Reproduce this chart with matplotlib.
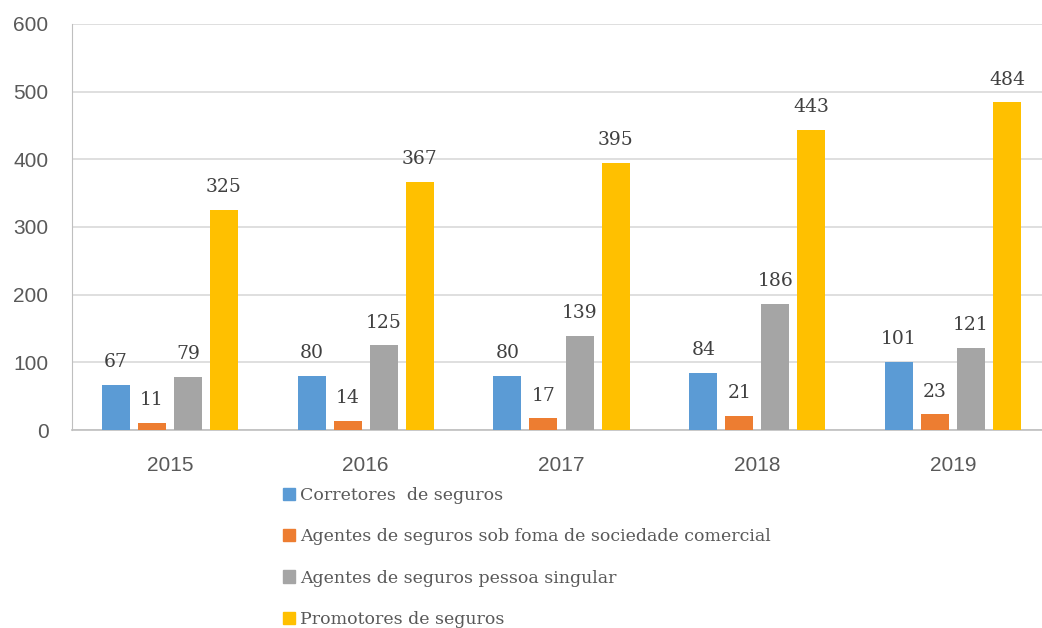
#!/usr/bin/env python3
import numpy as np
import matplotlib
matplotlib.use("Agg")
import matplotlib.pyplot as plt
from matplotlib.patches import Patch

# Dados
anos = ["2015", "2016", "2017", "2018", "2019"]
series = [
    "Corretores  de seguros",
    "Agentes de seguros sob foma de sociedade comercial",
    "Agentes de seguros pessoa singular",
    "Promotores de seguros",
]
corretores = [67, 80, 80, 84, 101]
agentes_sociedade = [11, 14, 17, 21, 23]
agentes_singular = [79, 125, 139, 186, 121]
promotores = [325, 367, 395, 443, 484]
valores = [corretores, agentes_sociedade, agentes_singular, promotores]
cores = ["#5B9BD5", "#ED7D31", "#A5A5A5", "#FFC000"]

texto = "#595959"
serif = "DejaVu Serif"
sans = "Liberation Sans"

fig = plt.figure(figsize=(10.42, 6.28), dpi=100)
W, H = 1042, 628
ax = fig.add_axes([72 / W, 1 - 430 / H, (1051 - 72) / W, (430 - 24) / H])

x = np.arange(len(anos))
largura = 0.143
passo = 0.184
for i, (vals, cor) in enumerate(zip(valores, cores)):
    pos = x + (i - 1.5) * passo
    barras = ax.bar(pos, vals, width=largura, color=cor, zorder=3)
    for b, v in zip(barras, vals):
        ax.annotate(str(v), (b.get_x() + b.get_width() / 2, v),
                    xytext=(0, 10), textcoords="offset points",
                    ha="center", va="bottom", fontsize=13.5,
                    family=serif, color="#404040")

ax.set_xlim(-0.5, 4.5)
ax.set_ylim(0, 600)
ax.set_yticks(range(0, 601, 100))
ax.set_xticks(x)
ax.set_xticklabels(anos)
ax.grid(axis="y", color="#D9D9D9", linewidth=1.2, zorder=0)
for s in ["top", "right"]:
    ax.spines[s].set_visible(False)
ax.spines["left"].set_color("#BFBFBF")
ax.spines["bottom"].set_color("#BFBFBF")
ax.spines["bottom"].set_linewidth(1.2)
ax.tick_params(axis="both", length=0, labelsize=15, colors=texto)
ax.tick_params(axis="y", pad=17)
ax.tick_params(axis="x", pad=19)
for lab in ax.get_xticklabels() + ax.get_yticklabels():
    lab.set_family(sans)

handles = [Patch(color=c) for c in cores]
fig.legend(handles, series, loc="upper left",
           bbox_to_anchor=(276 / W, 1 - 480 / H), frameon=False,
           prop={"family": serif, "size": 12.5}, labelcolor=texto,
           handlelength=0.7, handleheight=0.7, handletextpad=0.3,
           labelspacing=1.4, borderaxespad=0)

fig.savefig("out.png", dpi=100)
